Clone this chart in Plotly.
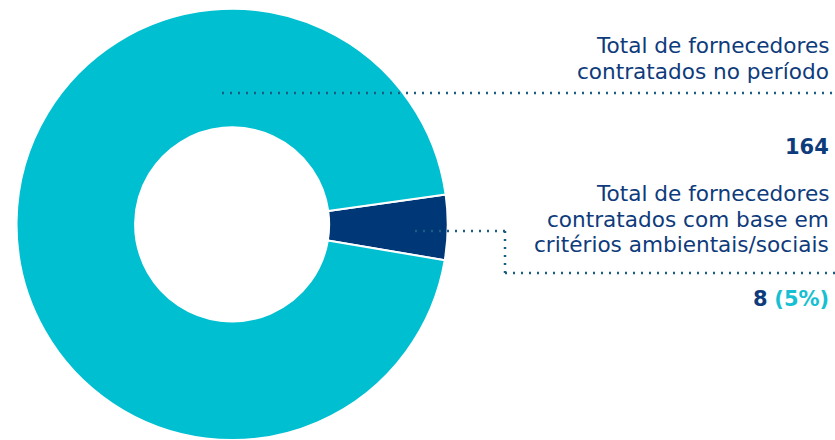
import plotly.graph_objects as go

labels = ["Total de fornecedores contratados com base em critérios ambientais/sociais",
          "Demais fornecedores contratados no período"]
values = [8, 156]
colors = ["#003777", "#00BFD0"]

total_label = ["Total de fornecedores", "contratados no período"]
total_value = "164"
crit_label = ["Total de fornecedores", "contratados com base em", "critérios ambientais/sociais"]
crit_value = "8"
crit_pct = "(5%)"

W, H = 835, 440
NAVY = "#0E3B7B"
DOT = "#1C5E80"
FONT = "DejaVu Sans"

fig = go.Figure(go.Pie(
    labels=labels, values=values, sort=False, direction="clockwise", rotation=82,
    hole=0.45, marker=dict(colors=colors, line=dict(color="white", width=2)),
    textinfo="none", hoverinfo="label+value", showlegend=False,
    domain=dict(x=[0.0, 0.556], y=[0.0, 0.98]),
))

def py(ypx):
    return 1 - ypx / H

def px(xpx):
    return xpx / W

shapes = []
dash = "2px,6px"
shapes.append(dict(type="line", xref="paper", yref="paper", x0=px(222), x1=px(835), y0=py(93), y1=py(93),
                   line=dict(color=DOT, width=2.5, dash=dash)))
shapes.append(dict(type="line", xref="paper", yref="paper", x0=px(415), x1=px(505), y0=py(231), y1=py(231),
                   line=dict(color=DOT, width=2.5, dash=dash)))
shapes.append(dict(type="line", xref="paper", yref="paper", x0=px(505), x1=px(505), y0=py(231), y1=py(273),
                   line=dict(color=DOT, width=2.5, dash=dash)))
shapes.append(dict(type="line", xref="paper", yref="paper", x0=px(505), x1=px(835), y0=py(273), y1=py(273),
                   line=dict(color=DOT, width=2.5, dash=dash)))

ann = []
def txt(s, ypx, size=21.6, color=NAVY, bold=False):
    ann.append(dict(text=(f"<b>{s}</b>" if bold else s), x=px(831), y=py(ypx), xref="paper", yref="paper",
                    xanchor="right", yanchor="middle", showarrow=False,
                    font=dict(family=FONT, size=size, color=color)))

for i, s in enumerate(total_label):
    txt(s, 45 + i * 26)
txt(total_value, 147, size=21, bold=True)
for i, s in enumerate(crit_label):
    txt(s, 193 + i * 26)
ann.append(dict(text=f"<b>{crit_value}</b> <b><span style='color:#17BFD2'>{crit_pct}</span></b>",
                x=px(831), y=py(299), xref="paper", yref="paper", xanchor="right", yanchor="middle",
                showarrow=False, font=dict(family=FONT, size=21, color=NAVY)))

fig.update_layout(width=W, height=H, margin=dict(l=0, r=0, t=0, b=0),
                  paper_bgcolor="white", plot_bgcolor="white",
                  shapes=shapes, annotations=ann)
fig.write_html("out.html", config={"displayModeBar": False},
               post_script="document.body.style.margin='0px';")
